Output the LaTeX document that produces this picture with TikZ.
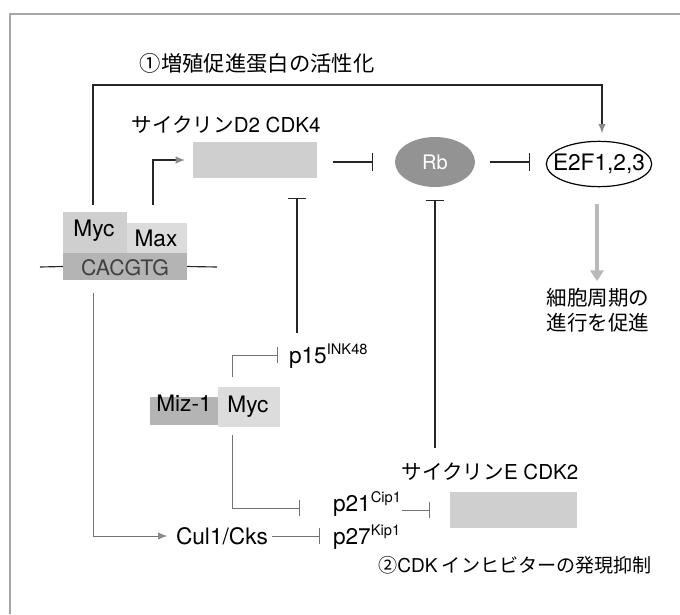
\documentclass[tikz,border=0pt]{standalone}
\usepackage{fontspec}
\setmainfont{TeX Gyre Heros}
\newfontfamily\jp{Noto Sans CJK JP}
\usetikzlibrary{arrows.meta,shapes.geometric,fit,calc}
\definecolor{boxA}{HTML}{CFCFCF}
\definecolor{boxB}{HTML}{DCDCDC}
\definecolor{boxC}{HTML}{B4B4B4}
\definecolor{rbfill}{HTML}{939393}
\definecolor{tipgray}{HTML}{8A8A8A}
\begin{document}
\begin{tikzpicture}[x=0.75pt,y=-0.75pt,
  every node/.style={inner sep=0pt, outer sep=0pt, font=\fontsize{17}{20}\selectfont},
  jptext/.style={font=\jp\fontsize{15.4}{19}\selectfont, align=center},
  shadebox/.style={draw=none, inner sep=0pt},
  blk/.style={line width=0.85pt, draw=black!85},
  lite/.style={line width=0.7pt, draw=black!55},
  act/.style={-{Latex[length=7pt,width=5.5pt,color=tipgray]}},
  inh/.style={-{Bar[width=14pt,line width=0.85pt]}},
  inhs/.style={-{Bar[width=12pt,line width=0.7pt]}}
]
\useasboundingbox (0,0) rectangle (680,614);
% frame
\draw[gray!70, line width=0.8pt] (10,614) -- (10,14) -- (680,14);

% titles
\node[jptext, font=\jp\fontsize{16}{20}\selectfont] (title) at (257,63) {①増殖促進蛋白の活性化};
\node[jptext, font=\jp\fontsize{14.3}{20}\selectfont] (title2) at (515,565) {②{\fontspec{TeX Gyre Heros}CDK} インヒビターの発現抑制};

% Myc / Max on CACGTG
\node[shadebox, fit={(63,212) (127,253)}, fill=boxA] (myc) {};
\node at (94,231) (myct) {Myc};
\node[shadebox, fit={(127,223) (187,253)}, fill=boxB] (max) {};
\node at (156,238) (maxt) {Max};
\node[shadebox, fit={(63,253) (187,280)}, fill=boxC] (cacgtg) {};
\node[text=black!75, font=\fontsize{16}{18}\selectfont] at (125,268) (cacgtgt) {CACGTG};
\coordinate (dnaL) at (40,267);
\coordinate (dnaR) at (217,267);
\draw[blk] (dnaL) -- (cacgtg.west);
\draw[blk] (cacgtg.east) -- (dnaR);

% cyclin D2 CDK4
\node[jptext] (cdlab) at (226,125) {サイクリン{\fontspec{TeX Gyre Heros}D2 CDK4}};
\node[shadebox, fit={(193,142) (317,178)}, fill=boxA] (cycd) {};

% Rb and E2F
\node[ellipse, fill=rbfill, minimum width=60pt, minimum height=37.5pt, text=white, font=\fontsize{15}{18}\selectfont] (rb) at (435,162) {Rb};
\node[ellipse, draw=black, line width=0.9pt, fill=white, minimum width=79pt, minimum height=34pt] (e2f) at (599,164) {};
\node (e2ft) at (e2f.center) {E2F1,2,3};
\node[jptext] (cc) at (598,310) {細胞周期の\\進行を促進};

% Miz-1 / Myc
\node[shadebox, fit={(150,397) (218,425)}, fill=boxC] (miz) {Miz-1};
\node[shadebox, fit={(218,387) (280,427)}, fill=boxB] (myc2) {};
\node at (248,407) (myc2t) {Myc};

% inhibitors
\node[anchor=west] (p15) at (289,356) {p15\textsuperscript{\fontsize{11}{11}\selectfont INK48}};
\node[anchor=west] (p21) at (333,504) {p21\textsuperscript{\fontsize{11}{11}\selectfont Cip1}};
\node[anchor=west] (p27) at (333,537) {p27\textsuperscript{\fontsize{11}{11}\selectfont Kip1}};
\node[anchor=west] (cul) at (176,536) {Cul1/Cks};

% cyclin E CDK2
\node[jptext] (celab) at (490,472) {サイクリン{\fontspec{TeX Gyre Heros}E CDK2}};
\node[shadebox, fit={(450,492) (577,528)}, fill=boxA] (cyce) {};

% ---- connectors ----
\coordinate (mycup) at (93,205);
\coordinate (fbR) at (602,85);
\draw[blk, act, shorten >=6pt] (mycup) |- (fbR) -- (fbR |- e2f.north);

\coordinate (maxup) at (153,205);
\draw[blk, act, shorten >=6pt] (maxup) |- (cycd.west);

\draw[blk, inh, shorten <=12pt, shorten >=16.5pt] (cycd.east |- rb) -- (rb.west);
\coordinate (rbE) at (490,162);
\coordinate (e2fbar) at (530,162);
\draw[blk, inh] (rbE) -- (e2fbar);

\coordinate (ccA) at (597,204);
\coordinate (ccB) at (597,281);
\draw[line width=3pt, draw=gray!55, -{Triangle[length=8pt,width=10pt]}] (ccA) -- (ccB);

\coordinate (p15top) at (297,333);
\draw[blk, inh, shorten >=15pt] (p15top) -- (p15top |- cycd.south);

\coordinate (rbdown) at (435,448);
\draw[blk, inh, shorten >=9.5pt] (rbdown) -- (rb.south);

\coordinate (mz1) at (232,377);
\coordinate (p15bar) at (278,355);
\draw[lite, inhs] (mz1) |- (p15bar);
\coordinate (mz2) at (232,435);
\coordinate (p21bar) at (300,508);
\draw[lite, inhs] (mz2) |- (p21bar);
\coordinate (p21e) at (402,510);
\coordinate (p21bar2) at (430,510);
\draw[lite, inhs] (p21e) -- (p21bar2);

\coordinate (mycdown) at (93,293);
\draw[lite, act, shorten >=6.5pt] (mycdown) |- (cul.west);
\coordinate (culbar) at (320,536);
\draw[lite, inhs, shorten <=3pt] (cul.east) -- (culbar);
\end{tikzpicture}
\end{document}
